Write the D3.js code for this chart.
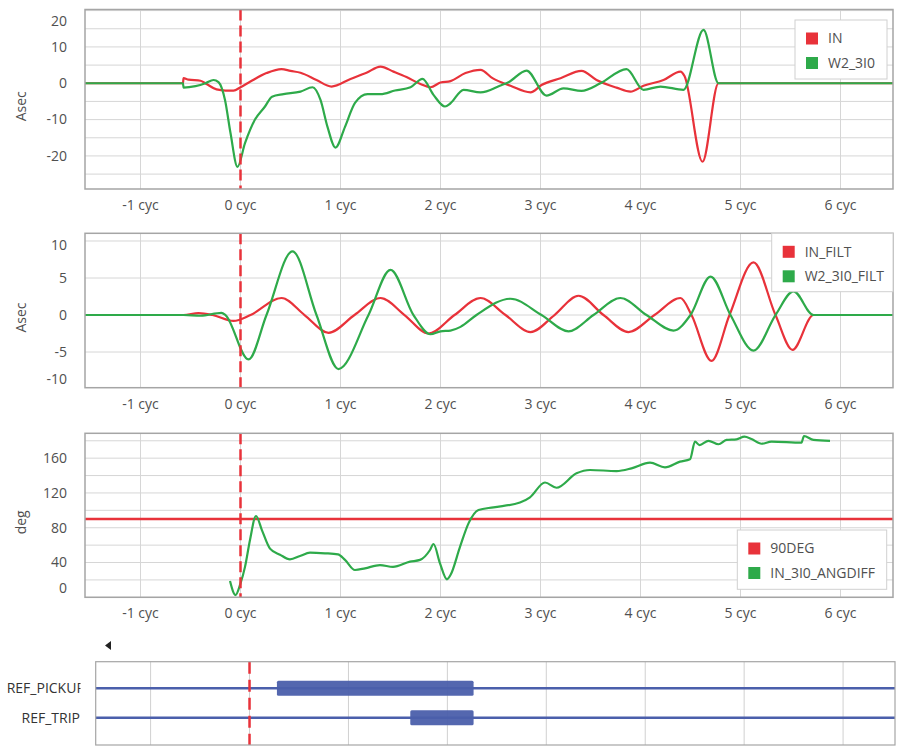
<!DOCTYPE html>
<html>
<head>
<meta charset="UTF-8">
<title>Event report</title>
<script src="https://d3js.org/d3.v7.min.js"></script>
<style>
  body { margin: 0; background: #fff; }
  svg { display: block; font-family: "Open Sans", sans-serif; }
</style>
</head>
<body>
<svg id="chart" width="900" height="752"></svg>
<script>
  // ---- data (time in cycles) ----
  const xTicks = [-1, 0, 1, 2, 3, 4, 5, 6];
  const tDomain = [-1.555, 6.525];

  const inRaw = [[-1.56,0],[-0.575,0],[-0.57,1.4],[-0.52,1.0],[-0.4,0.7],[-0.34,-0.2],[-0.24,-1.7],[-0.15,-2.0],[-0.07,-2.0],[0,-1.1],
    [0.095,0.4],[0.26,2.8],[0.41,3.9],[0.5,3.4],[0.6,2.9],[0.76,0.9],[0.91,-0.9],[1.1,1.2],[1.26,2.9],[1.4,4.6],[1.53,3.2],[1.66,1.7],
    [1.8,-0.2],[1.9,-1.1],[2.0,0.2],[2.1,0.6],[2.25,2.8],[2.4,3.7],[2.52,1.4],[2.7,-0.7],[2.9,-2.5],[3.01,-0.5],[3.2,1.4],[3.41,3.4],
    [3.56,0.9],[3.76,-1.2],[3.9,-2.3],[4.03,-0.7],[4.23,0.9],[4.4,3.2],[4.44,2.0],[4.62,-21.6],[4.78,0],[6.53,0]];
  const w2Raw = [[-1.56,0],[-0.575,0],[-0.57,-1.2],[-0.45,-0.8],[-0.35,0],[-0.27,0.9],[-0.22,0.3],[-0.155,-4.6],[-0.1,-13.7],[-0.03,-23],
    [0.045,-16.5],[0.145,-10],[0.245,-6.4],[0.315,-3.7],[0.43,-3],[0.6,-2.3],[0.72,-1.1],[0.8,-4.6],[0.87,-12],[0.95,-17.7],[1.045,-12],
    [1.145,-5.4],[1.27,-3],[1.4,-3],[1.545,-2],[1.7,-1.1],[1.82,1.2],[1.93,-3.2],[2.045,-6.4],[2.1,-5.5],[2.23,-1.8],[2.4,-2.5],[2.6,-0.6],
    [2.68,0.3],[2.86,3.5],[3.06,-3.4],[3.23,-1.4],[3.41,-2.1],[3.6,0],[3.86,3.9],[4.03,-1.8],[4.2,-0.9],[4.43,-1.8],[4.63,14.7],[4.78,0],[6.53,0]];

  const inFilt = [[-1.56,0],[-0.57,0],[-0.42,0.25],[-0.28,0],[-0.07,-0.8],[0.1,0],[0.41,2.3],[0.64,0],[0.88,-2.4],[1.14,0],[1.4,2.3],
    [1.64,0],[1.88,-2.5],[2.14,0],[2.4,2.3],[2.65,0],[2.9,-2.3],[3.14,0],[3.38,2.6],[3.63,0],[3.88,-2.3],[4.14,0],[4.4,2.3],[4.51,0],
    [4.71,-6.2],[4.89,0],[5.13,7.1],[5.35,0],[5.52,-4.7],[5.73,0],[6.53,0]];
  const w2Filt = [[-1.56,0],[-0.57,0],[-0.4,-0.1],[-0.19,0.3],[-0.15,0],[0.08,-6],[0.26,0],[0.52,8.6],[0.76,0],[0.98,-7.3],[1.28,0],
    [1.5,6.1],[1.73,0],[1.9,-2.6],[2.0,-2.2],[2.1,-2.1],[2.2,-1.6],[2.36,0],[2.7,2.2],[3.01,0],[3.28,-2.2],[3.53,0],[3.8,2.3],[4.06,0],
    [4.33,-2.1],[4.5,0],[4.7,5.2],[4.9,0],[5.13,-4.8],[5.35,0],[5.53,3.2],[5.73,0],[6.53,0]];

  const deg90 = [[-1.56,90],[6.53,90]];
  const angDiff = [[-0.105,18.7],[-0.05,2.6],[0,16],[0.045,35],[0.095,66],[0.155,93.5],[0.215,77],[0.295,56],[0.395,49],[0.495,43.7],
    [0.595,47.5],[0.695,51.3],[0.845,50.6],[0.975,49.4],[1.045,43],[1.145,31.4],[1.245,33.3],[1.395,37],[1.525,35],[1.695,41],[1.795,43],
    [1.895,54.4],[1.93,61.3],[1.995,39],[2.065,20.7],[2.1,25.6],[2.195,58],[2.28,85],[2.38,100.4],[2.53,103.5],[2.795,109],[2.895,115],
    [3.045,132],[3.16,126],[3.36,142.6],[3.495,146.4],[3.76,145.2],[3.91,148.3],[4.095,154.8],[4.245,149.5],[4.395,156],[4.495,158.7],
    [4.545,179],[4.59,175],[4.68,180],[4.78,176],[4.86,181],[4.96,181.7],[5.04,184.7],[5.11,182],[5.21,176.6],[5.31,179],[5.61,177.8],
    [5.635,185.5],[5.73,181],[5.895,180]];

  const digitalNames = ["REF_PICKUP", "REF_TRIP"];
  const digitalOn = [[0.277, 2.265], [1.625, 2.265]];

  const RED = "#e8323a", GREEN = "#2eaa4a", BLUE = "#4b5fab";

  const panels = [
    { top: 9.5, bottom: 189, domain: [-29.1, 20.3], ticks: [20, 10, 0, -10, -20], grid: d3.range(-25, 21, 5), title: "Asec",
      series: [{ name: "IN", data: inRaw, color: RED }, { name: "W2_3I0", data: w2Raw, color: GREEN }],
      legend: { x: 795, y: 20, w: 92, h: 59 } },
    { top: 233.3, bottom: 387.7, domain: [-9.82, 11.04], ticks: [10, 5, 0, -5, -10], grid: [10, 5, 0, -5], title: "Asec",
      series: [{ name: "IN_FILT", data: inFilt, color: RED }, { name: "W2_3I0_FILT", data: w2Filt, color: GREEN }],
      legend: { x: 771.7, y: 233.3, w: 121.3, h: 58.4 } },
    { top: 433.3, bottom: 597.3, domain: [0, 188.6], ticks: [160, 120, 80, 40, 0], grid: d3.range(0, 181, 20), title: "deg",
      series: [{ name: "90DEG", data: deg90, color: RED }, { name: "IN_3I0_ANGDIFF", data: angDiff, color: GREEN }],
      legend: { x: 737.3, y: 530, w: 149.4, h: 59.3 } }
  ];

  const svg = d3.select("#chart");
  const left = 85, right = 893;
  const x = d3.scaleLinear().domain(tDomain).range([left, right]);

  panels.forEach((p, i) => {
    const y = d3.scaleLinear().domain(p.domain).range([p.bottom, p.top]);
    const g = svg.append("g");

    g.append("clipPath").attr("id", "clip" + i)
      .append("rect").attr("x", left).attr("y", p.top).attr("width", right - left).attr("height", p.bottom - p.top);

    g.selectAll("line.hg").data(p.grid).enter().append("line")
      .attr("x1", left).attr("x2", right).attr("y1", d => y(d)).attr("y2", d => y(d))
      .attr("stroke", "#d6d6d6").attr("stroke-width", 1);
    g.selectAll("line.vg").data(xTicks).enter().append("line")
      .attr("x1", d => x(d)).attr("x2", d => x(d)).attr("y1", p.top).attr("y2", p.bottom)
      .attr("stroke", "#d6d6d6").attr("stroke-width", 1);

    const line = d3.line().x(d => x(d[0])).y(d => y(d[1])).curve(d3.curveMonotoneX);
    const plot = g.append("g").attr("clip-path", `url(#clip${i})`);
    p.series.forEach(s => {
      plot.append("path").attr("d", line(s.data)).attr("fill", "none")
        .attr("stroke", s.color).attr("stroke-width", s.name === "90DEG" ? 2.6 : 2.2)
        .attr("stroke-linejoin", "round");
    });

    plot.append("line").attr("x1", x(0)).attr("x2", x(0)).attr("y1", p.top).attr("y2", p.bottom)
      .attr("stroke", RED).attr("stroke-width", 2.5).attr("stroke-dasharray", "11,5");

    g.append("rect").attr("x", left).attr("y", p.top).attr("width", right - left).attr("height", p.bottom - p.top)
      .attr("fill", "none").attr("stroke", "#a5a5a5").attr("stroke-width", 1.5);

    // y tick labels (kept inside the frame height like the original)
    g.selectAll("text.yt").data(p.ticks).enter().append("text")
      .attr("x", 67).attr("y", d => Math.max(p.top + 12, Math.min(p.bottom - 9, y(d))))
      .attr("dy", "0.35em").attr("text-anchor", "end")
      .attr("font-size", 14).attr("fill", "#505050").text(d => d);

    g.selectAll("text.xt").data(xTicks).enter().append("text")
      .attr("x", d => x(d)).attr("y", p.bottom + 16).attr("dy", "0.35em").attr("text-anchor", "middle")
      .attr("font-size", 14).attr("fill", "#505050").text(d => d + " cyc");

    g.append("text")
      .attr("transform", `translate(26,${(p.top + p.bottom) / 2 + 7}) rotate(-90)`)
      .attr("text-anchor", "middle").attr("font-size", 14).attr("fill", "#505050").text(p.title);

    const L = p.legend;
    const lg = g.append("g");
    lg.append("rect").attr("x", L.x).attr("y", L.y).attr("width", L.w).attr("height", L.h)
      .attr("fill", "#fff").attr("stroke", "#d0d0d0");
    p.series.forEach((s, k) => {
      const cy = L.y + 18.5 + k * 24.5;
      lg.append("rect").attr("x", L.x + 11).attr("y", cy - 6).attr("width", 12).attr("height", 12).attr("fill", s.color);
      lg.append("text").attr("x", L.x + 33).attr("y", cy).attr("dy", "0.35em")
        .attr("font-size", 14).attr("fill", "#505050").text(s.name);
    });
  });

  // ---- digital channels ----
  const dTop = 661.7, dBottom = 745, dLeft = 95.7, dRight = 895;
  const xd = d3.scaleLinear().domain(tDomain).range([dLeft, dRight]);
  const yd = d3.scalePoint().domain(digitalNames).range([688.3, 717.7]);
  const dg = svg.append("g");

  dg.append("path").attr("d", "M111,641 L105,645.5 L111,650 Z").attr("fill", "#222");

  dg.selectAll("line.vg").data(xTicks).enter().append("line")
    .attr("x1", d => xd(d)).attr("x2", d => xd(d)).attr("y1", dTop).attr("y2", dBottom)
    .attr("stroke", "#d0d0d0").attr("stroke-width", 1);

  digitalNames.forEach((n, k) => {
    dg.append("line").attr("x1", dLeft).attr("x2", dRight).attr("y1", yd(n)).attr("y2", yd(n))
      .attr("stroke", BLUE).attr("stroke-width", 2.4);
    const on = digitalOn[k];
    dg.append("rect").attr("x", xd(on[0])).attr("y", yd(n) - 7.5)
      .attr("width", xd(on[1]) - xd(on[0])).attr("height", 15).attr("rx", 1.5)
      .attr("fill", BLUE).attr("fill-opacity", 0.95);
  });

  dg.append("line").attr("x1", xd(0)).attr("x2", xd(0)).attr("y1", dTop).attr("y2", dBottom)
    .attr("stroke", RED).attr("stroke-width", 2.5).attr("stroke-dasharray", "12,6");

  dg.append("rect").attr("x", dLeft).attr("y", dTop).attr("width", dRight - dLeft).attr("height", dBottom - dTop)
    .attr("fill", "none").attr("stroke", "#a5a5a5").attr("stroke-width", 1.2);

  // row labels: right-aligned in a fixed box; a label too long for the box starts at its left edge and is cut off
  const labL = 6.7, labR = 80.5;
  dg.append("clipPath").attr("id", "labclip")
    .append("rect").attr("x", labL).attr("y", dTop).attr("width", labR - labL).attr("height", dBottom - dTop);
  dg.append("g").attr("clip-path", "url(#labclip)")
    .selectAll("text").data(digitalNames).enter().append("text")
    .attr("y", d => yd(d)).attr("dy", "0.35em")
    .attr("font-size", 14).attr("fill", "#333").text(d => d)
    .each(function () {
      const t = d3.select(this);
      const fits = this.getComputedTextLength() <= labR - labL;
      t.attr("x", fits ? labR - 0.5 : labL).attr("text-anchor", fits ? "end" : "start");
    });
</script>
</body>
</html>
